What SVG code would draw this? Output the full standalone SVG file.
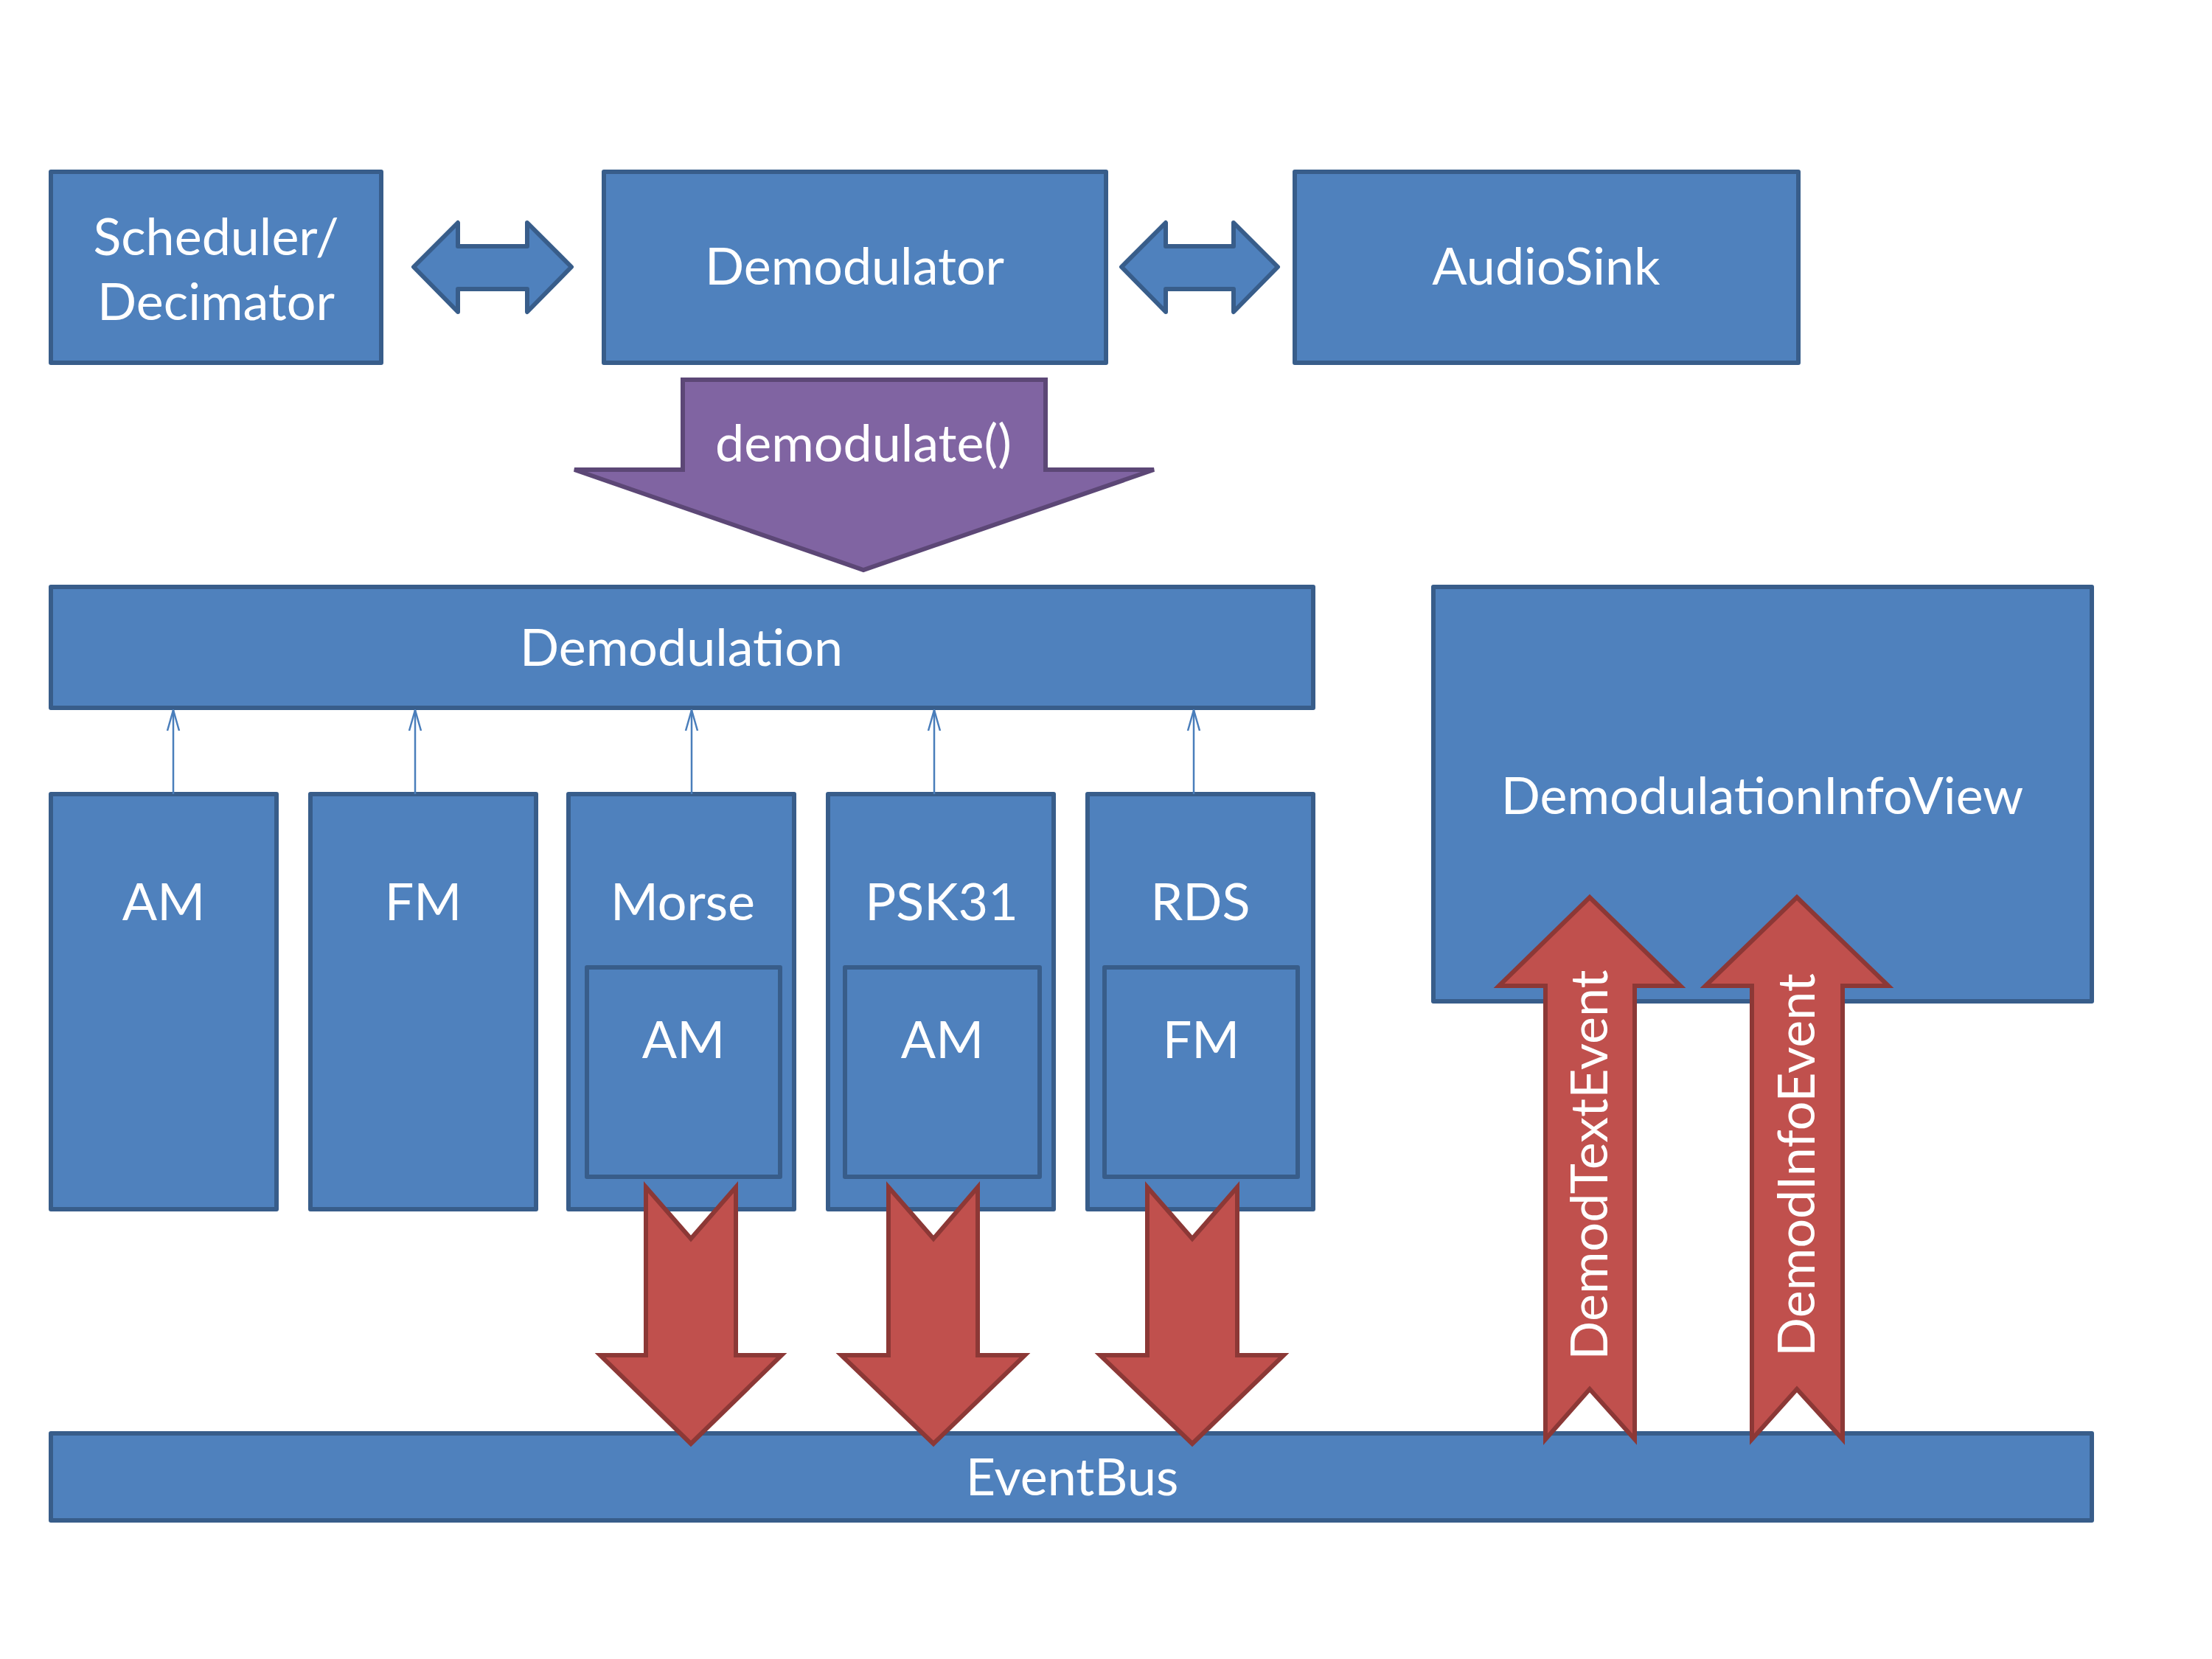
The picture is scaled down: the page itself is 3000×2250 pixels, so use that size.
<svg xmlns="http://www.w3.org/2000/svg" width="3000" height="2250" viewBox="0 0 3000 2250">
<defs>
<style>
.box{fill:#4F81BD;stroke:#385D8A;stroke-width:6;stroke-linejoin:round}
.lbl{font-family:Lato,"Open Sans","Liberation Sans",sans-serif;font-size:70px;fill:#FFFFFF;text-anchor:middle}
.dbl{fill:#4F81BD;stroke:#385D8A;stroke-width:6;stroke-linejoin:round}
.purple{fill:#8064A2;stroke:#5C4776;stroke-width:6;stroke-linejoin:miter}
.red{fill:#C0504D;stroke:#8C3836;stroke-width:6;stroke-linejoin:miter}
.thin{stroke:#4A7EBB;stroke-width:2.5;fill:none}
</style>
<marker id="openArrow" viewBox="0 0 30 20" refX="29" refY="10" markerWidth="30" markerHeight="20" markerUnits="userSpaceOnUse" orient="auto">
<path d="M1,2 L29,10 L1,18" fill="none" stroke="#4A7EBB" stroke-width="2.5"/>
</marker>
</defs>
<rect width="3000" height="2250" fill="#FFFFFF"/>

<g id="scheduler">
<rect class="box" x="69" y="233" width="448" height="259"/>
<text class="lbl" x="293" y="346">Scheduler/</text>
<text class="lbl" x="293" y="434">Decimator</text>
</g>
<g id="demodulator">
<rect class="box" x="819" y="233" width="681" height="259"/>
<text class="lbl" x="1159" y="386">Demodulator</text>
</g>
<g id="audiosink">
<rect class="box" x="1756" y="233" width="683" height="259"/>
<text class="lbl" x="2097" y="386">AudioSink</text>
</g>
<g id="demodulation">
<rect class="box" x="69" y="796" width="1712" height="164"/>
<text class="lbl" x="924" y="903">Demodulation</text>
</g>
<g id="infoview">
<rect class="box" x="1944" y="796" width="893" height="562"/>
<text class="lbl" x="2390" y="1104">DemodulationInfoView</text>
</g>
<g id="am">
<rect class="box" x="69" y="1077" width="306" height="563"/>
<text class="lbl" x="222" y="1248">AM</text>
</g>
<g id="fm">
<rect class="box" x="421" y="1077" width="306" height="563"/>
<text class="lbl" x="574" y="1248">FM</text>
</g>
<g id="morse">
<rect class="box" x="771" y="1077" width="306" height="563"/>
<text class="lbl" x="926" y="1248">Morse</text>
<rect class="box" x="796" y="1312" width="262" height="284"/>
<text class="lbl" x="927" y="1435">AM</text>
</g>
<g id="psk31">
<rect class="box" x="1123" y="1077" width="306" height="563"/>
<text class="lbl" x="1277" y="1248">PSK31</text>
<rect class="box" x="1146" y="1312" width="264" height="284"/>
<text class="lbl" x="1278" y="1435">AM</text>
</g>
<g id="rds">
<rect class="box" x="1475" y="1077" width="306" height="563"/>
<text class="lbl" x="1628" y="1248">RDS</text>
<rect class="box" x="1498" y="1312" width="262" height="284"/>
<text class="lbl" x="1629" y="1435">FM</text>
</g>
<g id="eventbus">
<rect class="box" x="69" y="1944" width="2768" height="118"/>
<text class="lbl" x="1454" y="2028">EventBus</text>
</g>

<g id="connectors">
<polygon class="dbl" points="561,362 621,302 621,334 715,334 715,302 775,362 715,423 715,392 621,392 621,423"/>
<polygon class="dbl" points="1521,362 1581,302 1581,334 1673,334 1673,302 1733,362 1673,423 1673,392 1581,392 1581,423"/>
<g id="demodulate-call">
<polygon class="purple" points="926,515 1418,515 1418,637 1565,637 1171,773 779,637 926,637"/>
<text class="lbl" x="1171" y="626">demodulate()</text>
</g>
<line class="thin" x1="235" y1="1077" x2="235" y2="963" marker-end="url(#openArrow)"/>
<line class="thin" x1="563" y1="1077" x2="563" y2="963" marker-end="url(#openArrow)"/>
<line class="thin" x1="938" y1="1077" x2="938" y2="963" marker-end="url(#openArrow)"/>
<line class="thin" x1="1267" y1="1077" x2="1267" y2="963" marker-end="url(#openArrow)"/>
<line class="thin" x1="1619" y1="1077" x2="1619" y2="963" marker-end="url(#openArrow)"/>
<polygon class="red" points="876,1610 937,1680 998,1610 998,1838 1060,1838 937,1958 814,1838 876,1838"/>
<polygon class="red" points="1205,1610 1266,1680 1326,1610 1326,1838 1390,1838 1266,1958 1141,1838 1205,1838"/>
<polygon class="red" points="1556,1610 1617,1680 1678,1610 1678,1838 1741,1838 1617,1958 1492,1838 1556,1838"/>
<g id="demodtextevent">
<polygon class="red" points="2096,1952 2156,1884 2217,1952 2217,1337 2279,1337 2156,1217 2033,1337 2096,1337"/>
<text class="lbl" transform="translate(2180,1580) rotate(-90)" x="0" y="0">DemodTextEvent</text>
</g>
<g id="demodinfoevent">
<polygon class="red" points="2376,1952 2437,1884 2499,1952 2499,1337 2561,1337 2437,1217 2313,1337 2376,1337"/>
<text class="lbl" transform="translate(2461,1580) rotate(-90)" x="0" y="0">DemodInfoEvent</text>
</g>
</g>
</svg>
